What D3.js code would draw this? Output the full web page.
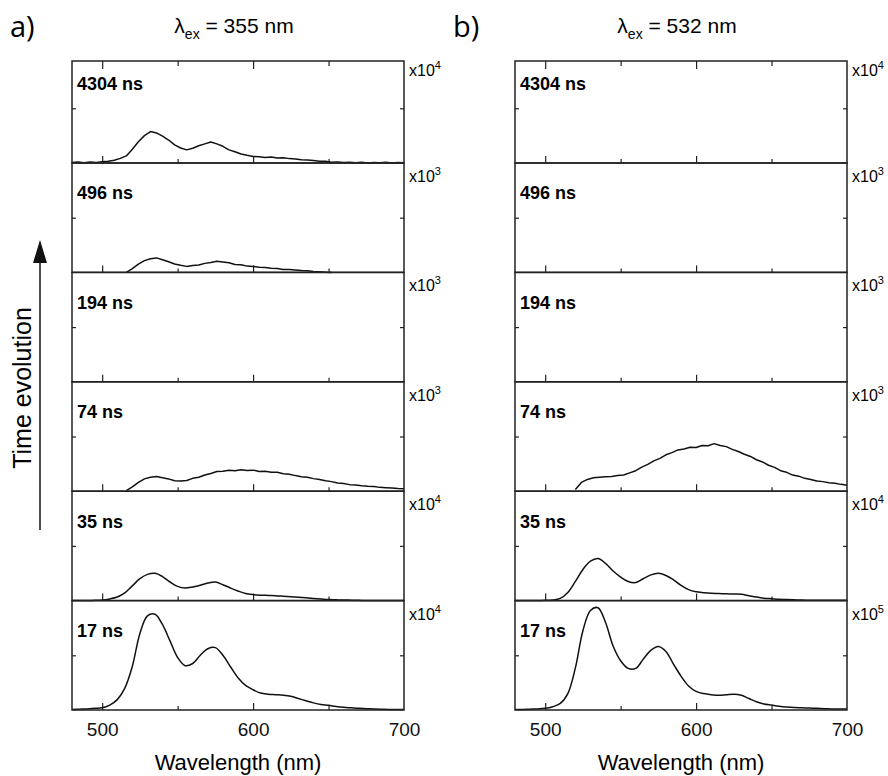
<!DOCTYPE html>
<html>
<head>
<meta charset="utf-8">
<script src="https://cdn.jsdelivr.net/npm/d3@7"></script>
<style>
  body { margin: 0; background: #fff; }
  svg text { font-family: 'Liberation Sans', Arial, sans-serif; }
  .tick line { stroke: #222; stroke-width: 1.2; }
</style>
</head>
<body>
<div id="chart"></div>
<script>
// wavelength grids (nm)
const wlSmooth = [480, 485, 490, 495, 500, 505, 510, 515, 520, 525, 530, 535, 540, 545, 550, 555, 560, 565, 570, 575,
  580, 585, 590, 595, 600, 605, 610, 615, 620, 625, 630, 635, 640, 645, 650, 655, 660, 665, 670, 675,
  680, 685, 690, 695, 700];
const wlNoisy = [480, 484, 488, 492, 496, 500, 504, 508, 512, 516, 520, 524, 528, 532, 536, 540, 544, 548, 552, 556,
  560, 564, 568, 572, 576, 580, 584, 588, 592, 596, 600, 604, 608, 612, 616, 620, 624, 628, 632, 636,
  640, 644, 648, 652, 656, 660, 664, 668, 672, 676, 680, 684, 688, 692, 696, 700];

const delays = ['4304 ns', '496 ns', '194 ns', '74 ns', '35 ns', '17 ns'];
const expA = [4, 3, 3, 3, 4, 4];
const expB = [4, 3, 3, 3, 4, 5];

// a) lambda_ex = 355 nm
const a4304 = [0.01, 0.02, 0.005, 0.02, 0.01, 0.025, 0.03, 0.05, 0.085, 0.13, 0.25, 0.39, 0.50, 0.575, 0.55, 0.49, 0.42, 0.33, 0.275, 0.24,
  0.27, 0.315, 0.35, 0.385, 0.35, 0.305, 0.24, 0.205, 0.165, 0.14, 0.12, 0.115, 0.10, 0.11, 0.09, 0.095, 0.08, 0.075, 0.06, 0.055,
  0.045, 0.03, 0.03, 0.015, 0.02, 0.01, 0.015, 0.005, 0.012, 0.0, 0.01, 0.005, 0.012, 0.0, 0.01, 0.005];
const a496 = [null, null, null, null, null, null, null, null, null, 0.0, 0.07, 0.15, 0.215, 0.25, 0.265, 0.23, 0.195, 0.155, 0.13, 0.11,
  0.125, 0.135, 0.165, 0.18, 0.205, 0.19, 0.175, 0.145, 0.14, 0.115, 0.11, 0.095, 0.09, 0.075, 0.07, 0.055, 0.055, 0.045, 0.035, 0.03,
  0.015, 0.01, 0.005, 0.0, null, null, null, null, null, null, null, null, null, null, null, null];
const a74 = [null, null, null, null, null, null, null, null, null, 0.01, 0.08, 0.16, 0.225, 0.255, 0.27, 0.245, 0.225, 0.19, 0.185, 0.195,
  0.235, 0.255, 0.295, 0.325, 0.36, 0.365, 0.385, 0.375, 0.39, 0.38, 0.385, 0.36, 0.365, 0.345, 0.345, 0.32, 0.31, 0.285, 0.265, 0.255,
  0.23, 0.215, 0.19, 0.175, 0.15, 0.14, 0.12, 0.115, 0.10, 0.09, 0.085, 0.07, 0.065, 0.06, 0.05, 0.045];
const a35 = [0, 0, 0, 0.005, 0.01, 0.03, 0.065, 0.14, 0.27, 0.40, 0.48, 0.50, 0.44, 0.34, 0.26, 0.23, 0.25, 0.28, 0.32, 0.34,
  0.29, 0.23, 0.175, 0.13, 0.11, 0.10, 0.095, 0.09, 0.08, 0.07, 0.06, 0.05, 0.04, 0.03, 0.02, 0.015, 0.01, 0.008, 0.005, 0.003,
  0.003, 0.002, 0.002, 0.001, 0.001];
const a17 = [0.01, 0.015, 0.02, 0.03, 0.04, 0.09, 0.19, 0.40, 0.80, 1.40, 1.72, 1.75, 1.56, 1.26, 0.96, 0.81, 0.85, 1.00, 1.12, 1.14,
  1.00, 0.79, 0.59, 0.45, 0.37, 0.31, 0.29, 0.28, 0.27, 0.25, 0.21, 0.17, 0.13, 0.10, 0.085, 0.065, 0.05, 0.04, 0.03, 0.025,
  0.02, 0.015, 0.01, 0.01, 0.01];

// b) lambda_ex = 532 nm
const b74 = [null, null, null, null, null, null, null, null, null, null, 0.03, 0.16, 0.215, 0.245, 0.255, 0.265, 0.27, 0.285, 0.295, 0.335,
  0.375, 0.44, 0.49, 0.555, 0.60, 0.665, 0.705, 0.755, 0.77, 0.805, 0.80, 0.835, 0.83, 0.87, 0.835, 0.815, 0.765, 0.725, 0.675, 0.635,
  0.575, 0.535, 0.475, 0.435, 0.375, 0.345, 0.295, 0.275, 0.235, 0.215, 0.185, 0.175, 0.155, 0.145, 0.125, 0.11];
const b35 = [0, 0, 0, 0.003, 0.005, 0.01, 0.04, 0.15, 0.35, 0.57, 0.72, 0.77, 0.68, 0.54, 0.43, 0.35, 0.33, 0.40, 0.47, 0.50,
  0.46, 0.38, 0.28, 0.20, 0.16, 0.145, 0.135, 0.13, 0.125, 0.12, 0.115, 0.09, 0.065, 0.045, 0.035, 0.025, 0.02, 0.015, 0.01, 0.008,
  0.006, 0.005, 0.005, 0.005, 0.005];
const b17 = [0.01, 0.01, 0.015, 0.02, 0.03, 0.06, 0.12, 0.30, 0.77, 1.45, 1.82, 1.87, 1.60, 1.17, 0.90, 0.76, 0.76, 0.93, 1.09, 1.16,
  1.07, 0.84, 0.62, 0.44, 0.34, 0.30, 0.28, 0.27, 0.28, 0.29, 0.27, 0.21, 0.15, 0.11, 0.09, 0.07, 0.055, 0.045, 0.04, 0.035,
  0.03, 0.025, 0.02, 0.02, 0.02];

const panels = [
  { tag: 'a)', ex: '355', left: 72, right: 404, exps: expA,
    rows: [[wlNoisy, a4304], [wlNoisy, a496], null, [wlNoisy, a74], [wlSmooth, a35], [wlSmooth, a17]] },
  { tag: 'b)', ex: '532', left: 515, right: 847, exps: expB,
    rows: [null, null, null, [wlNoisy, b74], [wlSmooth, b35], [wlSmooth, b17]] }
];

const W = 888, H = 776;
const bottomY = 710, rowH = 109.4, topY = 61;

const svg = d3.select('#chart').append('svg')
  .attr('width', W).attr('height', H);

// time evolution arrow
svg.append('line')
  .attr('x1', 40).attr('x2', 40).attr('y1', 530).attr('y2', 258)
  .attr('stroke', '#111').attr('stroke-width', 1.5);
svg.append('path')
  .attr('d', 'M40,240 L33,263 L47,263 Z')
  .attr('fill', '#111');
svg.append('text')
  .attr('transform', 'translate(31,388) rotate(-90)')
  .attr('text-anchor', 'middle')
  .style('font-size', '25px')
  .text('Time evolution');

panels.forEach(p => {
  const x = d3.scaleLinear().domain([480, 700]).range([p.left, p.right]);
  const g = svg.append('g');
  const cx = (p.left + p.right) / 2;

  // panel tag and title
  g.append('text')
    .attr('x', p.left - 62).attr('y', 37)
    .style('font-family', "'Open Sans', sans-serif")
    .style('font-size', '29px')
    .text(p.tag);
  const title = g.append('text')
    .attr('x', cx - 4).attr('y', 33)
    .attr('text-anchor', 'middle')
    .style('font-size', '21px');
  title.append('tspan').text('\u03bb');
  title.append('tspan').attr('dy', 6).style('font-size', '14px').text('ex');
  title.append('tspan').attr('dy', -6).text(' = ' + p.ex + ' nm');

  delays.forEach((label, i) => {
    const bot = bottomY - (delays.length - 1 - i) * rowH;
    const top = i === 0 ? topY : bot - rowH;
    const y = d3.scaleLinear().domain([0, 2]).range([bot, bot - rowH]);

    // x ticks pointing up from the panel bottom
    const major = g.append('g').attr('transform', `translate(0,${bot})`)
      .call(d3.axisBottom(x).tickValues([500, 600]).tickSize(-7).tickFormat(''));
    const minor = g.append('g').attr('transform', `translate(0,${bot})`)
      .call(d3.axisBottom(x).tickValues([550, 650]).tickSize(-4).tickFormat(''));
    major.select('.domain').remove();
    minor.select('.domain').remove();

    if (i === 0) {
      const tMaj = g.append('g').attr('transform', `translate(0,${top})`)
        .call(d3.axisTop(x).tickValues([500, 600]).tickSize(-8).tickFormat(''));
      const tMin = g.append('g').attr('transform', `translate(0,${top})`)
        .call(d3.axisTop(x).tickValues([550, 650]).tickSize(-5).tickFormat(''));
      tMaj.select('.domain').remove();
      tMin.select('.domain').remove();
    }

    // y ticks on both sides
    const yl = g.append('g').attr('transform', `translate(${p.left},0)`)
      .call(d3.axisRight(y).tickValues([1]).tickSize(4).tickFormat(''));
    const yr = g.append('g').attr('transform', `translate(${p.right},0)`)
      .call(d3.axisLeft(y).tickValues([1]).tickSize(4).tickFormat(''));
    yl.select('.domain').remove();
    yr.select('.domain').remove();

    // spectrum
    const row = p.rows[i];
    if (row) {
      const pts = row[0].map((w, k) => ({ w, v: row[1][k] }));
      const line = d3.line()
        .defined(d => d.v !== null)
        .x(d => x(d.w))
        .y(d => y(d.v))
        .curve(row[0] === wlSmooth ? d3.curveCatmullRom : d3.curveLinear);
      g.append('path')
        .datum(pts)
        .attr('d', line)
        .attr('fill', 'none')
        .attr('stroke', '#111')
        .attr('stroke-width', 1.5)
        .attr('stroke-linejoin', 'round');
    }

    // frame
    g.append('rect')
      .attr('x', p.left).attr('y', top)
      .attr('width', p.right - p.left).attr('height', bot - top)
      .attr('fill', 'none').attr('stroke', '#222').attr('stroke-width', 1.5);

    // delay label
    g.append('text')
      .attr('x', p.left + 5).attr('y', bot - 73)
      .style('font-size', '18px').style('font-weight', 'bold')
      .text(label);

    // scale factor
    const sf = g.append('text')
      .attr('x', p.right + 5).attr('y', top + (i === 0 ? 15 : 19))
      .style('font-size', '16px');
    sf.append('tspan').text('x10');
    sf.append('tspan').attr('dy', -7).style('font-size', '11px').text(p.exps[i]);
  });

  // wavelength axis labels
  const ax = g.append('g').attr('transform', `translate(0,${bottomY})`)
    .call(d3.axisBottom(x).tickValues([500, 600, 700]).tickSize(0).tickPadding(13));
  ax.select('.domain').remove();
  ax.selectAll('text').style('font-size', '19px').attr('fill', '#111');

  g.append('text')
    .attr('x', cx).attr('y', 770)
    .attr('text-anchor', 'middle')
    .style('font-size', '22px')
    .text('Wavelength (nm)');
});
</script>
</body>
</html>
